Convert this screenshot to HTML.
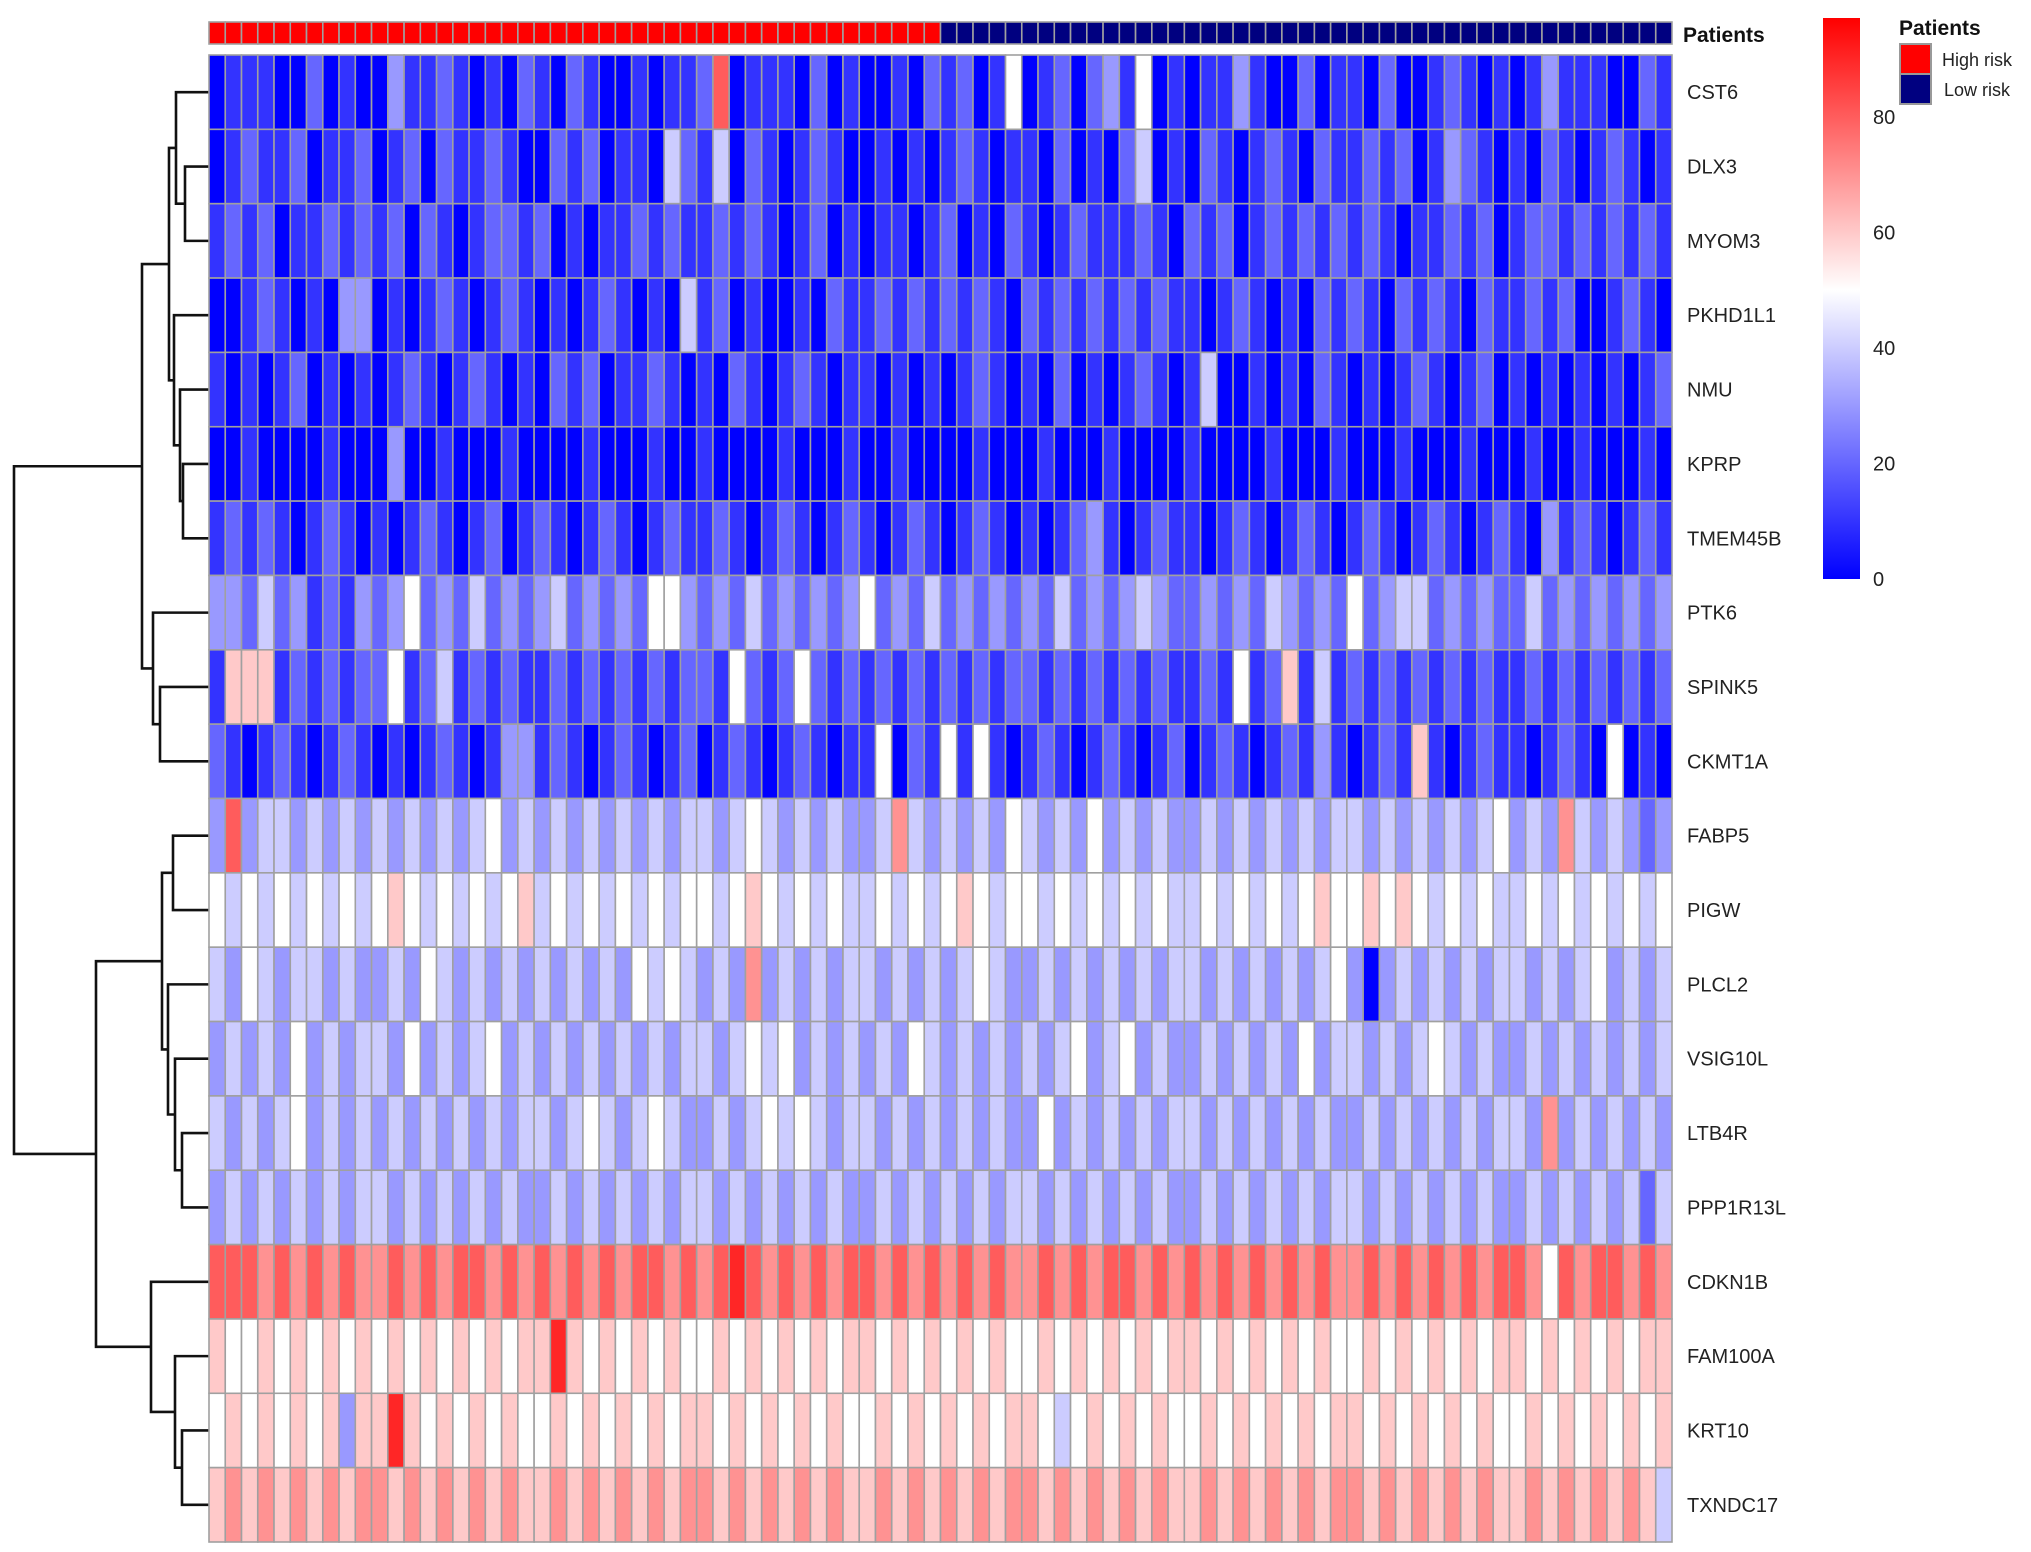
<!DOCTYPE html>
<html><head><meta charset="utf-8">
<style>
html,body{margin:0;padding:0;background:#fff;}
svg{display:block;font-family:"Liberation Sans",Arial,sans-serif;}
</style></head>
<body>
<svg id="chart" width="2031" height="1552" viewBox="0 0 2031 1552" xmlns="http://www.w3.org/2000/svg">
<g id="dendro"></g>
<g id="annot"></g>
<g id="cells"></g>
<g id="labels"></g>
<text x="1683" y="42" font-size="21" font-weight="bold" fill="#111">Patients</text>
<defs>
<linearGradient id="grad" x1="0" y1="1" x2="0" y2="0">
<stop offset="0" stop-color="#0000ff"/>
<stop offset="0.515" stop-color="#ffffff"/>
<stop offset="1" stop-color="#ff0000"/>
</linearGradient>
</defs>
<rect x="1823" y="18" width="37" height="561" fill="url(#grad)"/>
<g id="ticks"></g>
<text x="1899" y="35" font-size="21" font-weight="bold" fill="#111">Patients</text>
<rect x="1900" y="44" width="31" height="30" fill="#ff0000" stroke="#999" stroke-width="2"/>
<rect x="1900" y="74" width="31" height="30" fill="#000080" stroke="#999" stroke-width="2"/>
<text x="1942" y="66" font-size="18" fill="#222">High risk</text>
<text x="1944" y="96" font-size="18" fill="#222">Low risk</text>
</svg>
<script>
const genes = ["CST6","DLX3","MYOM3","PKHD1L1","NMU","KPRP","TMEM45B","PTK6","SPINK5","CKMT1A","FABP5","PIGW","PLCL2","VSIG10L","LTB4R","PPP1R13L","CDKN1B","FAM100A","KRT10","TXNDC17"];
const highRiskCount = 45;
const lowRiskCount = 45;
// expression levels: each digit d = value d*10
const rowCST6 = "0111002010 0311210102 1021001011 2801110201 0010212015 0120231501 0113100201 1020012101 0131110021";
const rowDLX3 = "0121120112 0120211210 0212011042 1402101210 0101012101 1020102401 0210121021 1212013210 1021012101";
const rowMYOM3 = "1212011212 1202101221 2010112121 1212101201 0110120102 1012111210 2120121212 1210112120 1221212121";
const rowPKHD1L1 = "0012101033 0101210121 0101210104 1201001021 1212121210 2121212121 1012101021 2102121021 1212001210";
const rowNMU = "1010120101 0121012101 0212011210 1021012101 1010101210 1020101210 1400101021 0101210120 1010101012";
const rowKPRP = "0010000100 0300100010 0001000100 1000010001 0010000100 0100010000 1000010001 0001000100 0100100010";
const rowTMEM45B = "1212101210 1012101201 2101210121 1210121012 1012101210 1012310121 1012101210 1210121012 1031210121";
const rowPTK6 = "3324231213 2352324232 3423232553 2324232323 5232423232 3242323432 2323243232 5234423232 2423232323";
const rowSPINK5 = "1666121212 2512412121 1212121212 2152125212 1212121212 2121212121 1215126141 2121212121 1212121212";
const rowCKMT1A = "2101210121 0101210133 1210121012 0121012101 1502151510 1210121012 0121012131 0121610121 1012105010";
const rowFABP5 = "3834434343 4343434534 3434343434 4345434343 3474343435 4343534343 3434343434 4343434345 3437434323";
const rowPIGW = "5454545454 5654545456 4545454545 5456545454 4545456545 5454545454 4545454565 5656545454 4545454545";
const rowPLCL2 = "4354344343 3435434343 4343435454 3437343434 4343434543 3434343434 4343434345 3034343434 4343453434";
const rowVSIG10L = "3434353434 4353434534 3434343434 4345453434 3435434343 4345345343 3434343534 4343454343 3434343434";
const rowLTB4R = "4343453434 3434343434 4345434543 3434545434 4343434343 3534343434 4343434343 3434343434 4373434343";
const rowPPP1R13L = "3434343434 4343434343 3434343434 4343434343 3434343434 4343434343 3434343434 4343434343 3434343424";
const rowCDKN1B = "8887878787 7878788787 8787878878 7898787878 8787878787 7878788787 8787878787 7878787878 8758788787";
const rowFAM100A = "6556565656 5656565656 6965656565 5656565656 6565656565 5656565656 6565656565 5656565656 6565656566";
const rowKRT10 = "5656565636 6965656565 5656565656 6565656565 5656565656 6545656565 5656565656 6565656565 5656565656";
const rowTXNDC17 = "6767676767 7676767676 6767676767 7676767676 6767676767 7676767676 6767676767 7676767676 6767676764";
const tickValues = [0,20,40,60,80];
// dendrogram merges: [left, right, height-x]
const tree = [[[[0,[1,2,185],176],[3,[4,[5,6,183],180],174],169],[7,[8,9,160],153],142],[[[10,11,173],[12,[13,[14,15,182],175],168],162],[16,[17,[18,19,182],175],151],96],14];

const rows = [rowCST6,rowDLX3,rowMYOM3,rowPKHD1L1,rowNMU,rowKPRP,rowTMEM45B,rowPTK6,rowSPINK5,rowCKMT1A,rowFABP5,rowPIGW,rowPLCL2,rowVSIG10L,rowLTB4R,rowPPP1R13L,rowCDKN1B,rowFAM100A,rowKRT10,rowTXNDC17].map(s=>s.replace(/\s/g,'').split('').map(d=>+d*10));
const NS="http://www.w3.org/2000/svg";
const X0=209, X1=1672, Y0=55, Y1=1542;
const nCol=highRiskCount+lowRiskCount;
const cw=(X1-X0)/nCol, rh=(Y1-Y0)/genes.length;
const xCol=i=>X0+i*cw, yRow=i=>Y0+i*rh;
const VMIN=0,VMID=50,VMAX=97;
function color(v){
  let r,g,b;
  if(v<=VMID){const t=(v-VMIN)/(VMID-VMIN);r=Math.round(255*t);g=r;b=255;}
  else{const t=Math.min(1,(v-VMID)/(VMAX-VMID));r=255;g=Math.round(255*(1-t));b=g;}
  return `rgb(${r},${g},${b})`;
}
function mk(tag,attrs,parent){const e=document.createElementNS(NS,tag);for(const k in attrs)e.setAttribute(k,attrs[k]);parent.appendChild(e);return e;}
const cells=document.getElementById('cells');
rows.forEach((row,ri)=>{
  row.forEach((v,ci)=>{
    const r=mk('rect',{x:xCol(ci),y:yRow(ri),width:cw,height:rh,fill:color(v),stroke:'#a0a0a0','stroke-width':1.6},cells);
    
    
  });
});
const annot=document.getElementById('annot');
for(let i=0;i<nCol;i++){
  const r=mk('rect',{x:xCol(i),y:22,width:cw,height:22,fill:i<highRiskCount?'#ff0000':'#000080',stroke:'#a0a0a0','stroke-width':1.6},annot);
  
  
}
const labels=document.getElementById('labels');
genes.forEach((g,i)=>{
  const t=mk('text',{x:1687,y:yRow(i)+rh/2+7,'font-size':20,fill:'#222'},labels);
  t.textContent=g;
  
  
});
const ticks=document.getElementById('ticks');
const yScale=v=>579-v*(579-117)/80;
tickValues.forEach(v=>{
  const t=mk('text',{x:1873,y:yScale(v)+7,'font-size':20,fill:'#222'},ticks);
  t.textContent=v;
  
  
});
const dendro=document.getElementById('dendro');
function draw(node){
  if(typeof node==='number') return {x:X0,y:yRow(node)+rh/2};
  const a=draw(node[0]), b=draw(node[1]), h=node[2];
  const p=mk('path',{d:`M${a.x},${a.y}H${h}V${b.y}H${b.x}`,fill:'none',stroke:'#111','stroke-width':2.6},dendro);
  
  
  return {x:h,y:(a.y+b.y)/2};
}
draw(tree);
</script>
</body></html>
